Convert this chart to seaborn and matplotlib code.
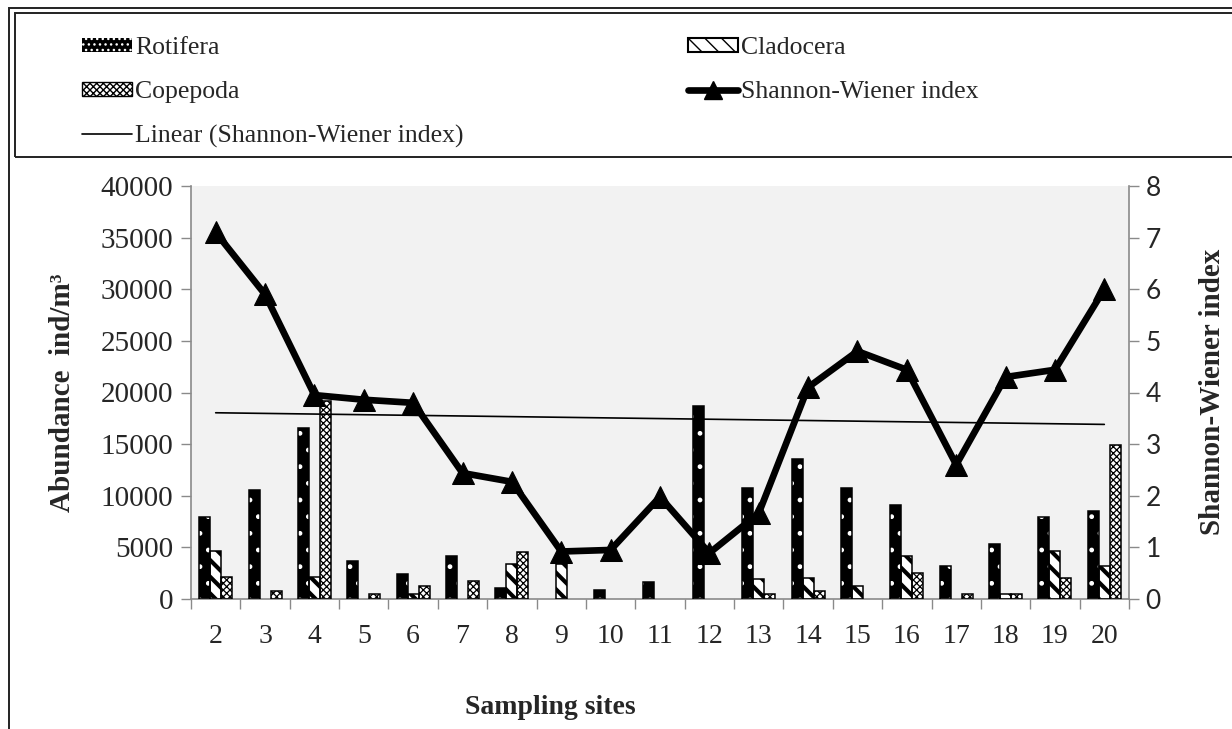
import numpy as np
import pandas as pd
import seaborn as sns
import matplotlib.pyplot as plt
from matplotlib.patches import Patch, Rectangle
from matplotlib.lines import Line2D

# data
sites = [str(s) for s in range(2, 21)]
groups = ['Rotifera', 'Cladocera', 'Copepoda']
rotifera = [7900, 10600, 16600, 3700, 2400, 4200, 1100, 0, 830, 1650, 18700,
            10750, 13600, 10750, 9100, 3200, 5300, 7900, 8500]
cladocera = [4650, 0, 2100, 0, 450, 0, 3350, 3350, 0, 0, 0,
             1900, 2050, 1250, 4150, 0, 450, 4650, 3200]
copepoda = [2100, 800, 19150, 480, 1250, 1750, 4600, 0, 0, 0, 0,
            480, 800, 0, 2550, 450, 450, 2050, 14900]
shannon = [7.1, 5.9, 3.95, 3.86, 3.8, 2.44, 2.27, 0.92, 0.95, 1.98, 0.89,
           1.66, 4.1, 4.8, 4.44, 2.6, 4.3, 4.44, 6.0]

sns.set_theme(style="white")
plt.rcParams['font.family'] = ['Liberation Serif', 'DejaVu Serif']
plt.rcParams['hatch.linewidth'] = 1.0

df = pd.DataFrame({
    'site': sites * 3,
    'group': [g for g in groups for _ in sites],
    'value': rotifera + cladocera + copepoda,
})

W, H = 1232, 729
fig = plt.figure(figsize=(W / 100, H / 100), dpi=100)
ax = fig.add_axes([191 / W, 1 - 599 / H, 938 / W, 413 / H])
ax.set_facecolor('#f2f2f2')

sns.barplot(data=df, x='site', y='value', hue='group', hue_order=groups,
            palette=['black', 'white', 'white'], width=0.67, saturation=1,
            edgecolor='black', linewidth=1, legend=False, ax=ax)

styles = {
    'Rotifera': dict(face='black', hatch_col='white', hatch='.', hlw=1.0),
    'Cladocera': dict(face='white', hatch_col='black', hatch='\\\\', hlw=3.0),
    'Copepoda': dict(face='white', hatch_col='black', hatch='xxxxx', hlw=0.9),
}


def style_patch(p, st):
    p.set_facecolor(st['face'])
    p.set_edgecolor(st['hatch_col'])
    p.set_hatch(st['hatch'])
    if hasattr(p, 'set_hatch_linewidth'):
        p.set_hatch_linewidth(st['hlw'])


for g, cont in zip(groups, ax.containers):
    for p in cont:
        style_patch(p, styles[g])
        p.set_linewidth(0)
        if p.get_height() > 0:
            ax.add_patch(Rectangle((p.get_x(), 0), p.get_width(), p.get_height(),
                                   fill=False, edgecolor='black', lw=1.1, zorder=3))

ax.set_ylim(0, 40000)
ax.set_xlim(-0.5, 18.5)
ax.set_yticks(np.arange(0, 40001, 5000))
ax.set_yticklabels([str(v) for v in range(0, 40001, 5000)])
ax.set_xticks(np.arange(-0.5, 19, 1))
ax.set_xticklabels([])
ax.set_xticks(np.arange(19), minor=True)
ax.set_xticklabels(sites, minor=True)
ax.set_xlabel('')
ax.set_ylabel('')

gray = '#8a8a8a'
ax.tick_params(axis='y', which='major', direction='out', length=7, width=1,
               color=gray, labelsize=21, pad=6, left=True)
ax.tick_params(axis='x', which='major', direction='out', length=7, width=1,
               color=gray, bottom=True)
ax.tick_params(axis='x', which='minor', length=0, labelsize=20, pad=18)
for s in ['top', 'right']:
    ax.spines[s].set_visible(False)
for s in ['left', 'bottom']:
    ax.spines[s].set_color(gray)
    ax.spines[s].set_linewidth(1.2)

ax2 = ax.twinx()
x = np.arange(len(sites))
sns.lineplot(x=x, y=shannon, ax=ax2, color='black', lw=4.8, marker='^',
             markersize=16, markeredgecolor='black', zorder=5)
fit = np.polyfit(x, shannon, 1)
ax2.plot(x, np.polyval(fit, x), color='black', lw=1.2, zorder=4)
ax2.set_ylim(0, 8)
ax2.set_yticks(range(0, 9))
ax2.set_ylabel('')
for s in ['top', 'left', 'bottom']:
    ax2.spines[s].set_visible(False)
ax2.spines['right'].set_color(gray)
ax2.spines['right'].set_linewidth(1.2)
ax2.tick_params(axis='y', direction='out', length=7, width=1, color=gray,
                labelsize=19, pad=5, right=True)
for t in ax2.get_yticklabels():
    t.set_family('Lato')

fig.text(63 / W, 1 - 393 / H, 'Abundance  ind/m\u00b3', rotation=90,
         ha='center', va='center', fontsize=21, fontweight='bold')
fig.text(1212 / W, 1 - 392 / H, 'Shannon-Wiener index', rotation=90,
         ha='center', va='center', fontsize=21, fontweight='bold')
fig.text(550 / W, 1 - 708 / H, 'Sampling sites', ha='center', va='center',
         fontsize=20, fontweight='bold')

# legend
h_rot = Patch(facecolor='black', edgecolor='white', hatch='...', lw=0)
h_cla = Patch(facecolor='white', edgecolor='black', hatch='\\\\', lw=1.5)
h_cop = Patch(facecolor='white', edgecolor='black', hatch='xxxxx', lw=1)
for h, g in [(h_rot, 'Rotifera'), (h_cla, 'Cladocera'), (h_cop, 'Copepoda')]:
    if hasattr(h, 'set_hatch_linewidth'):
        h.set_hatch_linewidth(styles[g]['hlw'])
h_sw = Line2D([], [], color='black', lw=4.8, marker='^', markersize=13)
h_lin = Line2D([], [], color='black', lw=1.2)
leg_kw = dict(frameon=False, loc='upper left', borderpad=0, borderaxespad=0,
              fontsize=18.5, handlelength=1.95, handleheight=0.45,
              handletextpad=0.12, labelspacing=0.85)
fig.legend([h_rot, h_cop, h_lin],
           ['Rotifera', 'Copepoda', 'Linear (Shannon-Wiener index)'],
           bbox_to_anchor=(82 / W, 1 - 37 / H), **leg_kw)
fig.legend([h_cla, h_sw], ['Cladocera', 'Shannon-Wiener index'],
           bbox_to_anchor=(688 / W, 1 - 37 / H), **leg_kw)

# frame lines
fig.add_artist(Rectangle((9 / W, -0.1), 1.2, 1 - 8 / H + 0.1, fill=False,
                         edgecolor='#222222', lw=1.4, transform=fig.transFigure))
fig.add_artist(Rectangle((15 / W, 1 - 157 / H), 1.2, (157 - 13) / H, fill=False,
                         edgecolor='#222222', lw=1.4, transform=fig.transFigure))

fig.savefig('out.png', dpi=100)
